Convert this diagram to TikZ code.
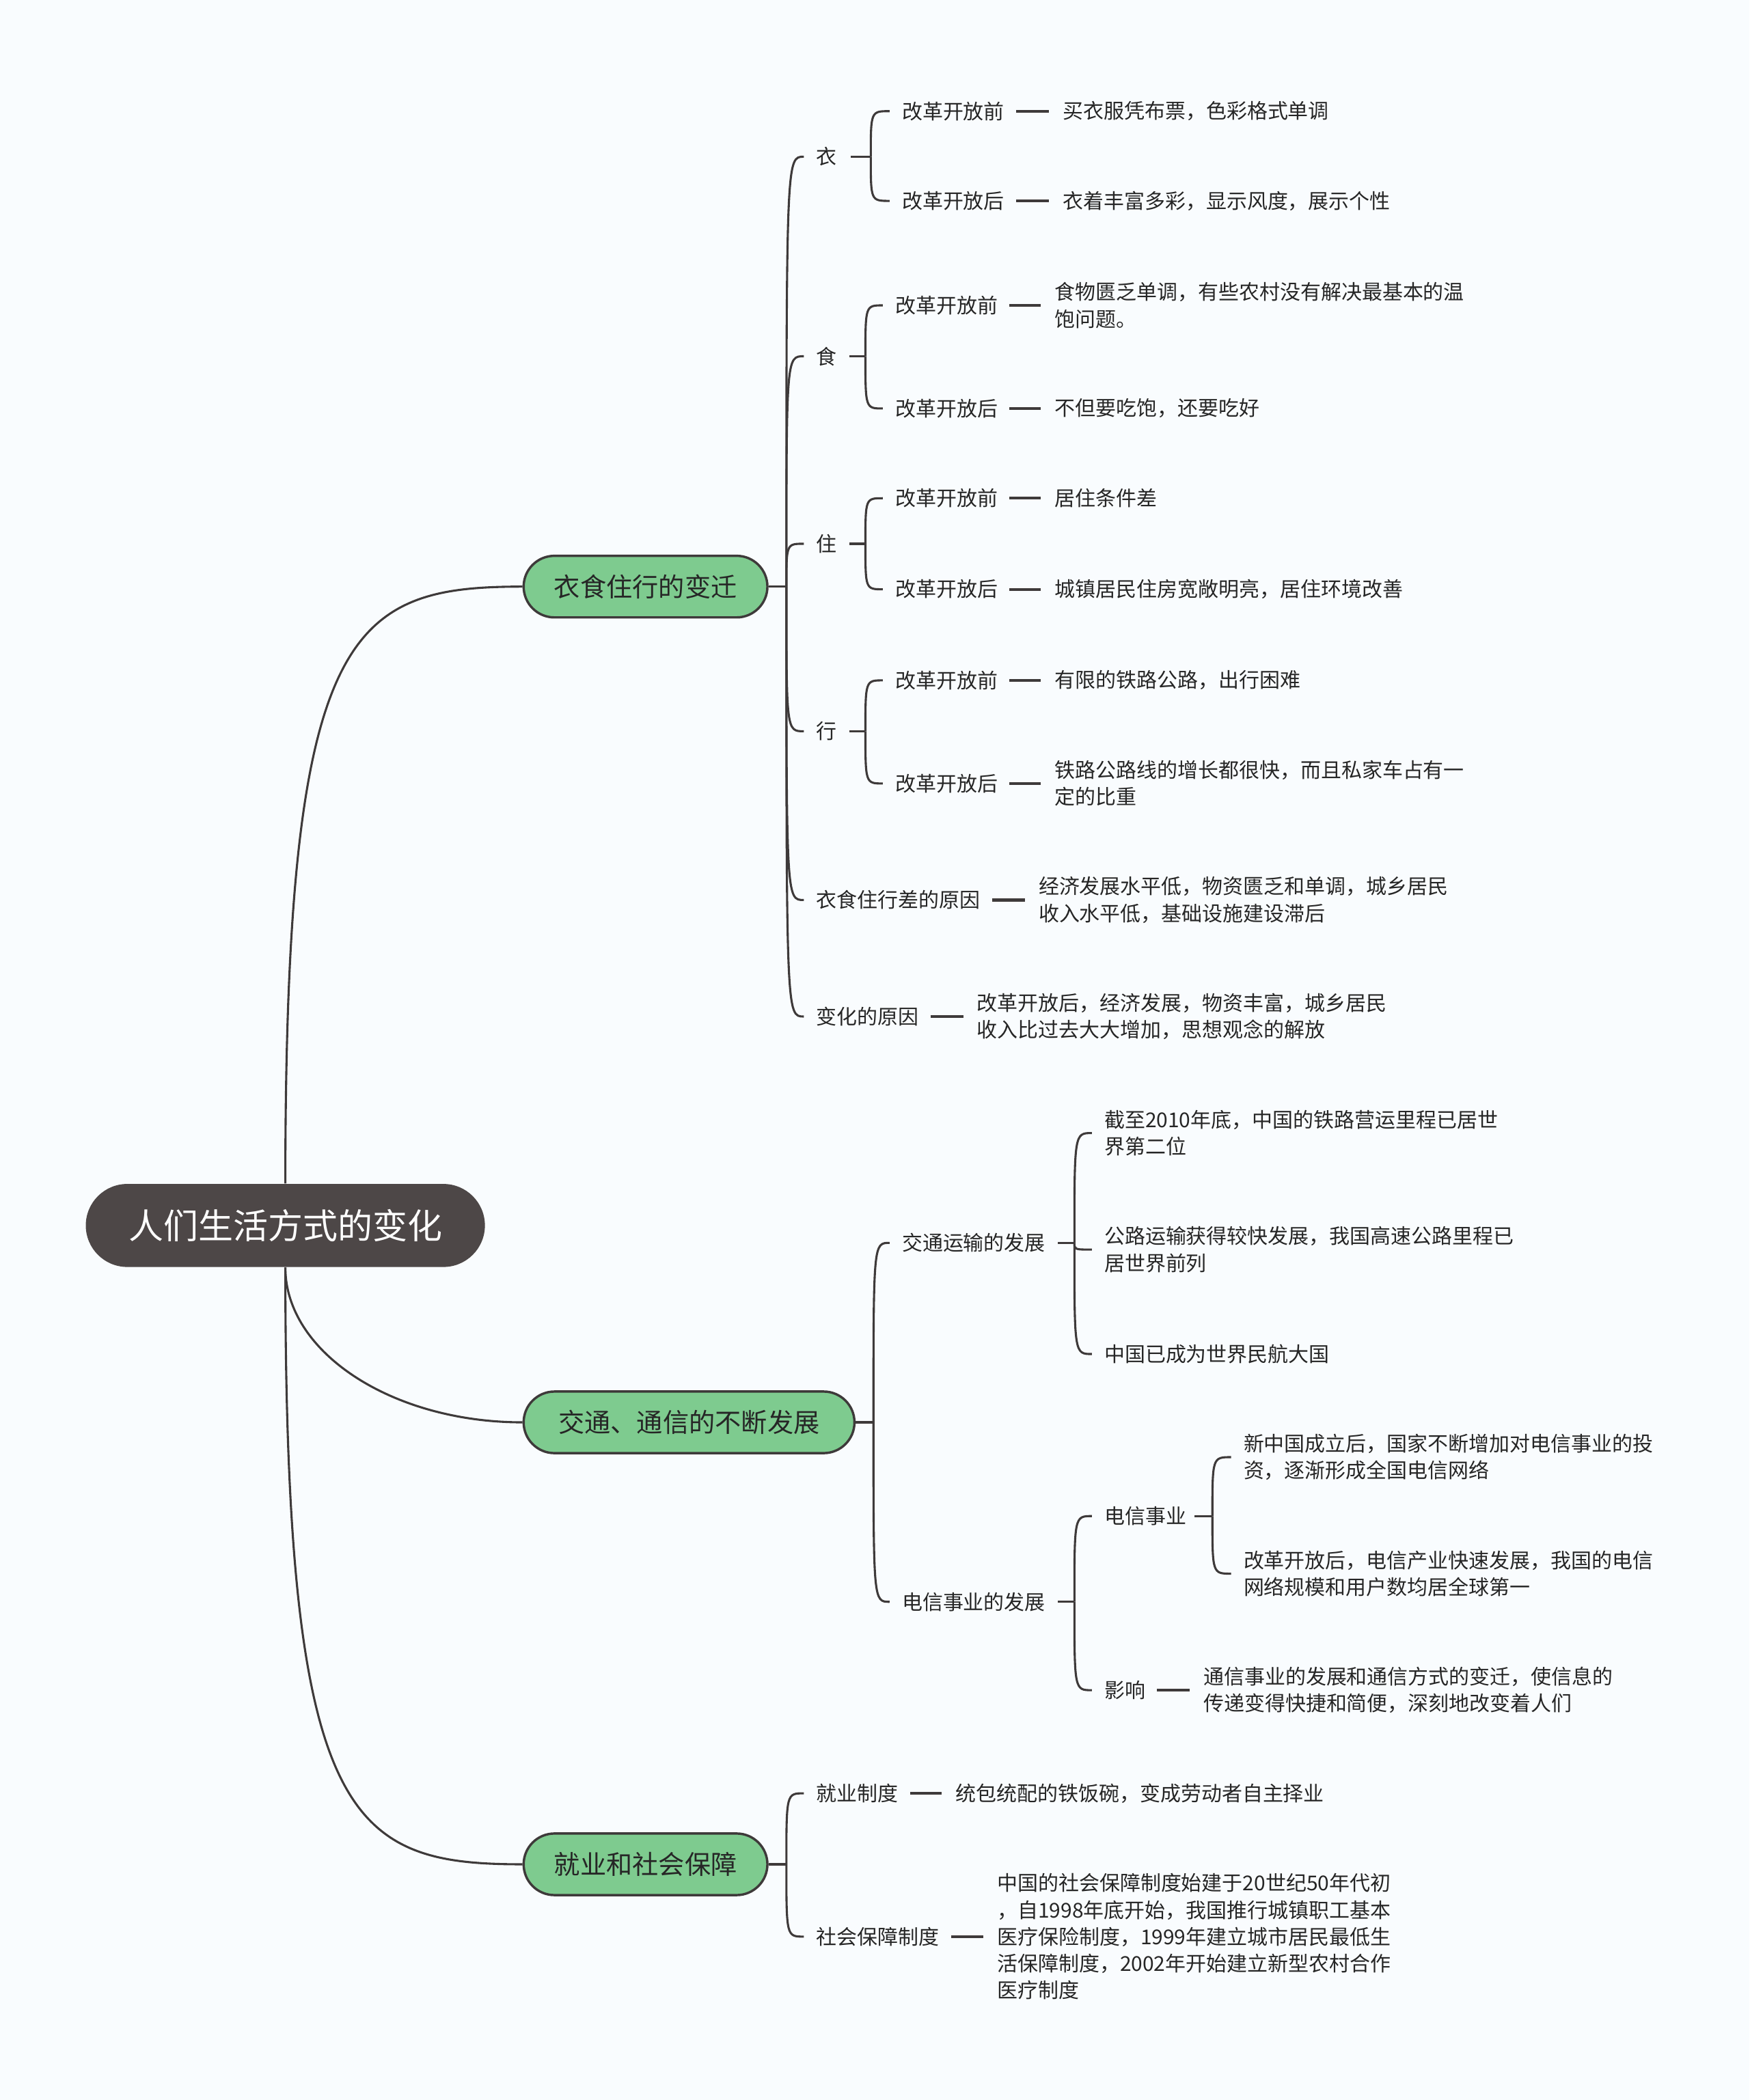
\documentclass[tikz,border=0pt]{standalone}
\usepackage{fontspec}
\setmainfont{Noto Sans CJK SC}
\definecolor{bgcol}{RGB}{249,252,254}
\definecolor{rootgray}{RGB}{77,71,71}
\definecolor{topicgreen}{RGB}{126,203,143}
\definecolor{linegray}{RGB}{62,58,58}
\definecolor{textgray}{RGB}{38,38,38}

\begin{document}
\begin{tikzpicture}[x=0.02cm, y=-0.02cm,
rootbox/.style={fill=rootgray, text=white, rounded corners=0.62cm, minimum width=5.96cm, minimum height=1.24cm, font=\fontsize{14.8}{18}\selectfont},
topic/.style={draw=linegray, line width=1pt, fill=topicgreen, text=textgray, rounded corners=0.46cm, minimum height=0.92cm, inner xsep=0.3cm, anchor=west, font=\fontsize{11.1}{14}\selectfont},
txt/.style={inner sep=0pt, anchor=west, align=left, text=textgray, font=\fontsize{8.7}{11.4}\selectfont},
link/.style={draw=linegray, line width=0.9pt},
fork/.style={shorten >=0.18cm, to path={.. controls (\tikztostart |- \tikztotarget) .. (\tikztotarget)}},
stub/.style={link, line width=1.2pt, shorten <=0.17cm, shorten >=0.2cm}]
\fill [bgcol] (0,0) rectangle (1306,1568);

\node [rootbox] (rootn) at (213,915) {人们生活方式的变化};
\node [topic, minimum width=3.64cm] (b1) at (390,438) {衣食住行的变迁};
\node [topic, minimum width=4.94cm] (b2) at (390,1062) {交通、通信的不断发展};
\node [topic, minimum width=3.64cm] (b3) at (390,1392) {就业和社会保障};
\coordinate (j1) at (587,438);
\coordinate (j2) at (652,1062);
\coordinate (j3) at (587,1392);

% 衣食住行
\node [txt] (yi) at (609,117) {衣};
\node [txt] (shi) at (609,266) {食};
\node [txt] (zhu) at (609,406) {住};
\node [txt] (xing) at (609,546) {行};
\node [txt] (cha) at (609,672) {衣食住行差的原因};
\node [txt] (bh) at (609,759) {变化的原因};

\coordinate (yij) at (650,117);
\node [txt] (yi1) at (673,83) {改革开放前};
\node [txt] (yi2) at (673,150) {改革开放后};
\node [txt] (yi1l) at (793,83) {买衣服凭布票，色彩格式单调};
\node [txt] (yi2l) at (793,150) {衣着丰富多彩，显示风度，展示个性};

\coordinate (shij) at (646,266);
\node [txt] (shi1) at (668,228) {改革开放前};
\node [txt] (shi2) at (668,305) {改革开放后};
\node [txt] (shi1l) at (787,228) {食物匮乏单调，有些农村没有解决最基本的温\\饱问题。};
\node [txt] (shi2l) at (787,305) {不但要吃饱，还要吃好};

\coordinate (zhuj) at (646,406);
\node [txt] (zhu1) at (668,372) {改革开放前};
\node [txt] (zhu2) at (668,440) {改革开放后};
\node [txt] (zhu1l) at (787,372) {居住条件差};
\node [txt] (zhu2l) at (787,440) {城镇居民住房宽敞明亮，居住环境改善};

\coordinate (xingj) at (646,546);
\node [txt] (xing1) at (668,508) {改革开放前};
\node [txt] (xing2) at (668,585) {改革开放后};
\node [txt] (xing1l) at (787,508) {有限的铁路公路，出行困难};
\node [txt] (xing2l) at (787,585) {铁路公路线的增长都很快，而且私家车占有一\\定的比重};

\node [txt] (chal) at (775,672) {经济发展水平低，物资匮乏和单调，城乡居民\\收入水平低，基础设施建设滞后};
\node [txt] (bhl) at (729,759) {改革开放后，经济发展，物资丰富，城乡居民\\收入比过去大大增加，思想观念的解放};

% 交通、通信
\node [txt] (jt) at (673,928) {交通运输的发展};
\node [txt] (dx) at (673,1196) {电信事业的发展};
\coordinate (jtj) at (802,928);
\node [txt] (jt1) at (824,846) {截至2010年底，中国的铁路营运里程已居世\\界第二位};
\node [txt] (jt2) at (824,933) {公路运输获得较快发展，我国高速公路里程已\\居世界前列};
\node [txt] (jt3) at (824,1011) {中国已成为世界民航大国};
\coordinate (dxj) at (802,1196);
\node [txt] (dxsy) at (824,1132) {电信事业};
\node [txt] (yx) at (824,1262) {影响};
\coordinate (dxsyj) at (905,1132);
\node [txt] (dxsy1) at (928,1088) {新中国成立后，国家不断增加对电信事业的投\\资，逐渐形成全国电信网络};
\node [txt] (dxsy2) at (928,1175) {改革开放后，电信产业快速发展，我国的电信\\网络规模和用户数均居全球第一};
\node [txt] (yxl) at (898,1262) {通信事业的发展和通信方式的变迁，使信息的\\传递变得快捷和简便，深刻地改变着人们};

% 就业和社会保障
\node [txt] (jy) at (609,1339) {就业制度};
\node [txt] (sb) at (609,1446) {社会保障制度};
\node [txt] (jyl) at (713,1339) {统包统配的铁饭碗，变成劳动者自主择业};
\node [txt] (sbl) at (744,1446) {中国的社会保障制度始建于20世纪50年代初\\，自1998年底开始，我国推行城镇职工基本\\医疗保险制度，1999年建立城市居民最低生\\活保障制度，2002年开始建立新型农村合作\\医疗制度};

% root to topics
\draw [link] (rootn.north) .. controls (213,470) and (260,438) .. (b1.west);
\draw [link] (rootn.south) .. controls (213,1010) and (293,1062) .. (b2.west);
\draw [link] (rootn.south) .. controls (213,1360) and (260,1392) .. (b3.west);
\draw [link] (b1.east) -- (j1);
\draw [link] (b2.east) -- (j2);
\draw [link] (b3.east) -- (j3);

% forks
\draw [link] (j1) edge[fork] (yi.west) edge[fork] (shi.west) edge[fork] (zhu.west)
  edge[fork] (xing.west) edge[fork] (cha.west) edge[fork] (bh.west);
\draw [link] (j2) edge[fork] (jt.west) edge[fork] (dx.west);
\draw [link] (j3) edge[fork] (jy.west) edge[fork] (sb.west);
\draw [link, shorten <=0.2cm] (yi.east) -- (yij);
\draw [link, shorten <=0.18cm] (shi.east) -- (shij);
\draw [link, shorten <=0.18cm] (zhu.east) -- (zhuj);
\draw [link, shorten <=0.18cm] (xing.east) -- (xingj);
\draw [link, shorten <=0.18cm] (jt.east) -- (jtj);
\draw [link, shorten <=0.18cm] (dx.east) -- (dxj);
\draw [link, shorten <=0.12cm] (dxsy.east) -- (dxsyj);
\draw [link] (yij) edge[fork] (yi1.west) edge[fork] (yi2.west);
\draw [link] (shij) edge[fork] (shi1.west) edge[fork] (shi2.west);
\draw [link] (zhuj) edge[fork] (zhu1.west) edge[fork] (zhu2.west);
\draw [link] (xingj) edge[fork] (xing1.west) edge[fork] (xing2.west);
\draw [link] (jtj) edge[fork] (jt1.west) edge[fork] (jt2.west) edge[fork] (jt3.west);
\draw [link] (dxj) edge[fork] (dxsy.west) edge[fork] (yx.west);
\draw [link] (dxsyj) edge[fork] (dxsy1.west) edge[fork] (dxsy2.west);

% leaves
\draw [stub] (yi1.east) -- (yi1l.west);
\draw [stub] (yi2.east) -- (yi2l.west);
\draw [stub] (shi1.east) -- (shi1l.west);
\draw [stub] (shi2.east) -- (shi2l.west);
\draw [stub] (zhu1.east) -- (zhu1l.west);
\draw [stub] (zhu2.east) -- (zhu2l.west);
\draw [stub] (xing1.east) -- (xing1l.west);
\draw [stub] (xing2.east) -- (xing2l.west);
\draw [stub] (cha.east) -- (chal.west);
\draw [stub] (bh.east) -- (bhl.west);
\draw [stub] (yx.east) -- (yxl.west);
\draw [stub] (jy.east) -- (jyl.west);
\draw [stub] (sb.east) -- (sbl.west);
\end{tikzpicture}
\end{document}
